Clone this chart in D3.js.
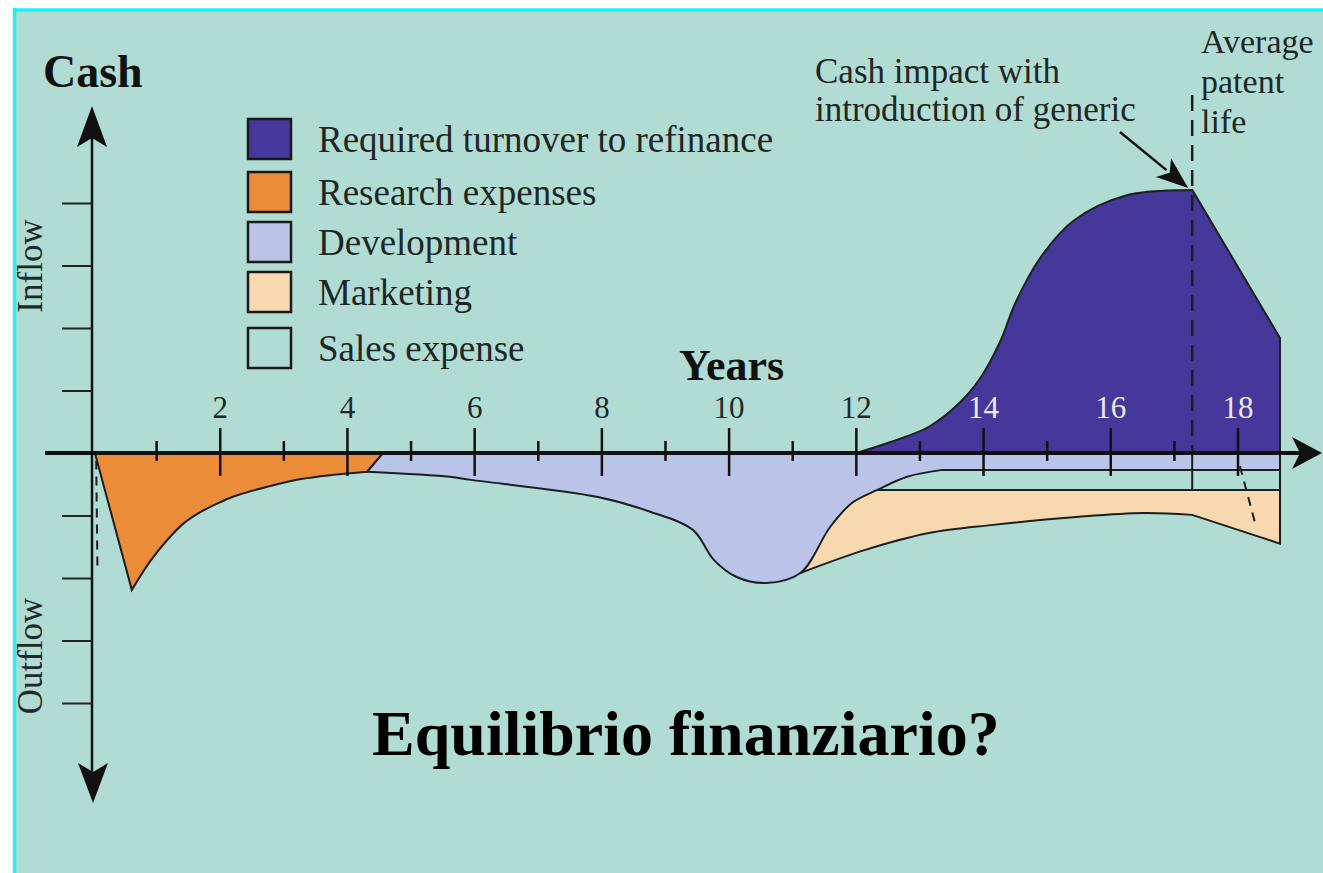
<!DOCTYPE html>
<html>
<head>
<meta charset="utf-8">
<script src="https://cdn.jsdelivr.net/npm/d3@7"></script>
<style>
  html, body { margin: 0; padding: 0; background: #ffffff; }
  svg { display: block; }
</style>
</head>
<body>
<script>

// Data: years on x, cash (tick units) on y

var majorYears = [2, 4, 6, 8, 10, 12, 14, 16, 18];
var minorYears = [1, 3, 5, 7, 9, 11, 13, 15, 17];
var cashTicks = [-4, -3, -2, -1, 1, 2, 3, 4];
var legendLabels = ["Required turnover to refinance", "Research expenses", "Development", "Marketing", "Sales expense"];

// Required turnover (upper curve, bottom is the axis)
var turnoverYears = [12, 12.55, 13.14, 13.62, 13.95, 14.26, 14.5, 14.89, 15.42, 16.24, 17.28];
var turnoverCash  = [0, 0.18, 0.42, 0.8, 1.2, 1.78, 2.4, 3.12, 3.72, 4.12, 4.21];
var turnoverEndYear = 18.66, turnoverEndCash = 1.84;

// Research expenses (lower curve, from the tip to the right)
var researchStartYear = 0.03;
var researchYears = [0.61, 0.9, 1.16, 1.42, 1.68, 1.95, 2.2, 2.74, 3.25, 3.77, 4.31];
var researchCash  = [-2.19, -1.73, -1.4, -1.13, -0.95, -0.81, -0.7, -0.54, -0.42, -0.35, -0.3];
var researchEndYear = 4.56;

// Development lower boundary, right to left
var devYears = [13.35, 12.8, 12.33, 11.93, 11.59, 11.12, 10.58, 10.11, 9.76, 9.43, 8.76, 7.92, 5.94, 5.61, 4.31];
var devCash  = [-0.27, -0.38, -0.59, -0.8, -1.18, -1.92, -2.08, -1.98, -1.71, -1.23, -0.94, -0.7, -0.43, -0.38, -0.3];
var devBandCash = -0.27;

// Marketing lower boundary, right to left
var mktYears = [18.66, 17.28, 16.52, 15.5, 14.15, 13.14, 12.14, 11.12];
var mktCash  = [-1.45, -0.99, -0.96, -1.02, -1.15, -1.28, -1.55, -1.92];
var mktTopCash = -0.59;

var patentYear = 17.28;
var genericDash = [[18.03, -0.21], [18.29, -1.2]];
var researchDash = [[0.05, -0.12], [0.07, -1.85]];

var colors = {
  bg: "#b1dcd3",
  turnover: "#45389a",
  research: "#ea8c38",
  development: "#bac4e8",
  marketing: "#f8d8ae",
  sales: "#b1dcd3",
  ink: "#1b1f1f"
};
var legendColors = [colors.turnover, colors.research, colors.development, colors.marketing, colors.sales];

var W = 1323, H = 873;
var serif = "'Liberation Serif', 'Times New Roman', Times, serif";

var x = d3.scaleLinear().domain([0, 18]).range([93, 1238]);
var y = d3.scaleLinear().domain([-4, 4]).range([703, 203]);

var svg = d3.select("body").append("svg")
            .attr("width", W)
            .attr("height", H);

// panel + cyan frame
svg.append("rect").attr("x", 14).attr("y", 10).attr("width", W - 14).attr("height", H - 10)
   .attr("fill", colors.bg);
svg.append("line").attr("x1", 13).attr("x2", W).attr("y1", 10).attr("y2", 10)
   .attr("stroke", "#1ef3f3").attr("stroke-width", 3.5);
svg.append("line").attr("x1", 14.5).attr("x2", 14.5).attr("y1", 8).attr("y2", H)
   .attr("stroke", "#1ef3f3").attr("stroke-width", 3.5);

// path helper: list of segments, each is points + curve
function pts(years, cash) {
  return years.map(function (d, i) { return [x(d), y(cash[i])]; });
}
function buildPath(segments, close) {
  var s = "";
  segments.forEach(function (seg, i) {
    var gen = d3.line().curve(seg.curve || d3.curveLinear);
    var p = gen(seg.points);
    if (i > 0) p = "L" + p.slice(1);
    s += p;
  });
  return close ? s + "Z" : s;
}
var smooth = d3.curveCatmullRom.alpha(0.5);

var shapes = svg.append("g").attr("id", "shapes");

// Required turnover
var turnoverPath = buildPath([
  { points: pts(turnoverYears, turnoverCash), curve: smooth },
  { points: [[x(patentYear), y(turnoverCash[turnoverCash.length - 1])], [x(turnoverEndYear), y(turnoverEndCash)], [x(turnoverEndYear), y(0)]] }
], true);
shapes.append("path").attr("d", turnoverPath).attr("fill", colors.turnover)
      .attr("stroke", colors.ink).attr("stroke-width", 2);

// Research expenses
var researchPath = buildPath([
  { points: [[x(researchStartYear), y(0)]] },
  { points: pts(researchYears, researchCash), curve: smooth },
  { points: [[x(researchEndYear), y(0)]] }
], true);
shapes.append("path").attr("d", researchPath).attr("fill", colors.research)
      .attr("stroke", colors.ink).attr("stroke-width", 2);

// Marketing fill (its left part is hidden under development)
var mktPath = buildPath([
  { points: [[x(mktYears[mktYears.length - 1]), y(mktTopCash)], [x(mktYears[0]), y(mktTopCash)]] },
  { points: pts(mktYears.slice(0, 2), mktCash.slice(0, 2)) },
  { points: pts(mktYears.slice(1), mktCash.slice(1)), curve: smooth }
], true);
shapes.append("path").attr("d", mktPath).attr("fill", colors.marketing).attr("stroke", "none");

// Development
var devPath = buildPath([
  { points: [[x(researchEndYear), y(0)], [x(turnoverEndYear), y(0)], [x(turnoverEndYear), y(devBandCash)]] },
  { points: pts(devYears, devCash), curve: smooth }
], true);
shapes.append("path").attr("d", devPath).attr("fill", colors.development)
      .attr("stroke", colors.ink).attr("stroke-width", 2);

// Marketing outline + sales expense band
shapes.append("path")
      .attr("d", buildPath([
        { points: [[x(devYears[2]), y(mktTopCash)], [x(mktYears[0]), y(mktTopCash)]] },
        { points: pts(mktYears.slice(0, 2), mktCash.slice(0, 2)) },
        { points: pts(mktYears.slice(1), mktCash.slice(1)), curve: smooth }
      ], false))
      .attr("fill", "none").attr("stroke", colors.ink).attr("stroke-width", 2);
shapes.append("line")
      .attr("x1", x(turnoverEndYear)).attr("x2", x(turnoverEndYear))
      .attr("y1", y(0)).attr("y2", y(mktCash[0]))
      .attr("stroke", colors.ink).attr("stroke-width", 2);
shapes.append("line")
      .attr("x1", x(patentYear)).attr("x2", x(patentYear))
      .attr("y1", y(0)).attr("y2", y(mktTopCash))
      .attr("stroke", colors.ink).attr("stroke-width", 2);

// dashed guides
svg.append("line")
   .attr("x1", x(patentYear)).attr("x2", x(patentYear))
   .attr("y1", 95).attr("y2", y(0))
   .attr("stroke", colors.ink).attr("stroke-width", 2.5)
   .attr("stroke-dasharray", "16,9");
[genericDash, researchDash].forEach(function (d) {
  svg.append("line")
     .attr("x1", x(d[0][0])).attr("y1", y(d[0][1]))
     .attr("x2", x(d[1][0])).attr("y2", y(d[1][1]))
     .attr("stroke", colors.ink).attr("stroke-width", 2)
     .attr("stroke-dasharray", "9,7");
});

// axes
var axes = svg.append("g").attr("id", "axes");
var x0 = x(0) - 1, y0 = y(0);

axes.append("line").attr("x1", 45).attr("x2", 1300).attr("y1", y0).attr("y2", y0)
    .attr("stroke", "#111").attr("stroke-width", 4);
axes.append("polygon")
    .attr("points", [[1322, y0], [1292, y0 - 16], [1300, y0], [1292, y0 + 16]].join(" "))
    .attr("fill", "#111");

axes.append("line").attr("x1", x0).attr("x2", x0).attr("y1", 135).attr("y2", 775)
    .attr("stroke", "#111").attr("stroke-width", 2.5);
axes.append("polygon")
    .attr("points", [[x0, 106], [x0 - 15, 147], [x0, 138], [x0 + 15, 147]].join(" "))
    .attr("fill", "#111");
axes.append("polygon")
    .attr("points", [[x0 + 1, 803], [x0 - 14, 763], [x0 + 1, 772], [x0 + 16, 763]].join(" "))
    .attr("fill", "#111");

// cash ticks (left of the axis)
var yAxis = d3.axisLeft(y).tickValues(cashTicks).tickSize(30).tickFormat("");
var yg = axes.append("g").attr("transform", "translate(" + x0 + ",0)").call(yAxis);
yg.select(".domain").remove();
yg.selectAll(".tick line").attr("stroke", "#222").attr("stroke-width", 2);

// year ticks
axes.selectAll("line.major").data(majorYears).enter().append("line")
    .attr("class", "major")
    .attr("x1", function (d) { return x(d); }).attr("x2", function (d) { return x(d); })
    .attr("y1", y0 - 25).attr("y2", y0 + 23)
    .attr("stroke", "#111").attr("stroke-width", 2.5);
axes.selectAll("line.minor").data(minorYears).enter().append("line")
    .attr("class", "minor")
    .attr("x1", function (d) { return x(d); }).attr("x2", function (d) { return x(d); })
    .attr("y1", y0 - 12).attr("y2", y0 + 8)
    .attr("stroke", "#111").attr("stroke-width", 2.5);
axes.selectAll("text.year").data(majorYears).enter().append("text")
    .attr("class", "year")
    .attr("x", function (d) { return x(d); })
    .attr("y", 418)
    .attr("text-anchor", "middle")
    .attr("font-family", serif).attr("font-size", 31)
    .attr("fill", function (d) { return d >= 14 ? "#eceaff" : "#1e2a2a"; })
    .text(function (d) { return d; });

// axis titles
svg.append("text").attr("x", 43).attr("y", 87)
   .attr("font-family", serif).attr("font-size", 46).attr("font-weight", "bold")
   .attr("fill", "#111").text("Cash");
svg.append("text").attr("x", 679).attr("y", 380)
   .attr("font-family", serif).attr("font-size", 44).attr("font-weight", "bold")
   .attr("fill", "#111").text("Years");
[["Inflow", 266], ["Outflow", 656]].forEach(function (d) {
  svg.append("text")
     .attr("transform", "translate(42," + d[1] + ") rotate(-90)")
     .attr("text-anchor", "middle")
     .attr("font-family", serif).attr("font-size", 35)
     .attr("fill", "#1e2a2a").text(d[0]);
});

// legend
var legendTops = [119, 172, 222, 272, 328];
var legend = svg.append("g").attr("id", "legend");
legend.selectAll("rect").data(legendLabels).enter().append("rect")
      .attr("x", 248).attr("y", function (d, i) { return legendTops[i]; })
      .attr("width", 43).attr("height", 40)
      .attr("fill", function (d, i) { return legendColors[i]; })
      .attr("stroke", "#1a1a1a").attr("stroke-width", 2.5);
legend.selectAll("text").data(legendLabels).enter().append("text")
      .attr("x", 318).attr("y", function (d, i) { return legendTops[i] + 33; })
      .attr("font-family", serif).attr("font-size", 37)
      .attr("fill", "#1e2626")
      .text(function (d) { return d; });

// annotations
var note = svg.append("g").attr("font-family", serif).attr("font-size", 35).attr("fill", "#1e2626");
note.append("text").attr("x", 815).attr("y", 83).text("Cash impact with");
note.append("text").attr("x", 815).attr("y", 121).text("introduction of generic");
note.append("text").attr("x", 1201).attr("y", 53).attr("font-size", 34).text("Average");
note.append("text").attr("x", 1201).attr("y", 93).attr("font-size", 34).text("patent");
note.append("text").attr("x", 1201).attr("y", 133).attr("font-size", 34).text("life");

var tip = [x(patentYear) - 4, y(turnoverCash[turnoverCash.length - 1]) - 2];
var tail = [1120, 132];
var dx = tip[0] - tail[0], dy = tip[1] - tail[1], len = Math.sqrt(dx * dx + dy * dy);
var ux = dx / len, uy = dy / len, headLen = 32, headW = 12;
var base = [tip[0] - ux * headLen, tip[1] - uy * headLen];
svg.append("line").attr("x1", tail[0]).attr("y1", tail[1])
   .attr("x2", base[0] + ux * 4).attr("y2", base[1] + uy * 4)
   .attr("stroke", "#111").attr("stroke-width", 2.5);
svg.append("polygon")
   .attr("points", [tip,
                    [base[0] - uy * headW, base[1] + ux * headW],
                    [base[0] + ux * 8, base[1] + uy * 8],
                    [base[0] + uy * headW, base[1] - ux * headW]].join(" "))
   .attr("fill", "#111");

// title
svg.append("text").attr("x", 372).attr("y", 755)
   .attr("font-family", serif).attr("font-size", 64).attr("font-weight", "bold")
   .attr("fill", "#000").text("Equilibrio finanziario?");

</script>
</body>
</html>
